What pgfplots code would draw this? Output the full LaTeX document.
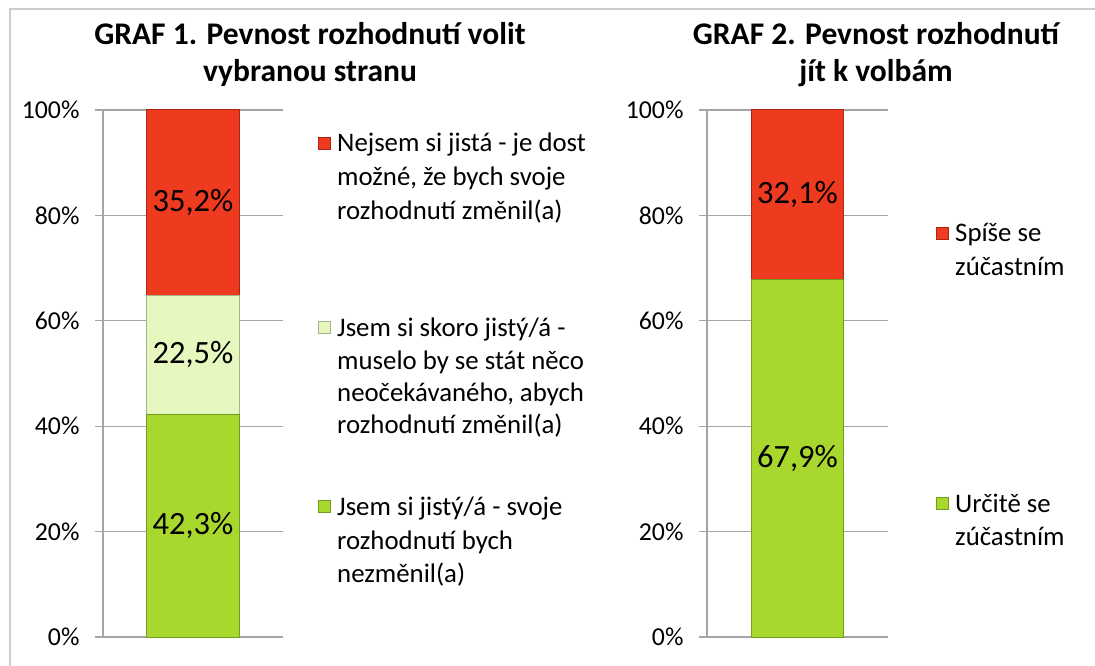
\documentclass[border=0pt]{standalone}
\usepackage{pgfplots}
\pgfplotsset{compat=1.18}
\usepackage{fontspec}
\setmainfont{Carlito}
\definecolor{cred}{RGB}{238,58,30}
\definecolor{credb}{RGB}{175,35,20}
\definecolor{clg}{RGB}{230,247,192}
\definecolor{clgb}{RGB}{165,180,135}
\definecolor{cgr}{RGB}{168,216,46}
\definecolor{cgrb}{RGB}{115,155,30}
\definecolor{cgrid}{RGB}{165,165,165}
\newcommand{\lf}{\fontsize{26.8}{30}\selectfont}
\newcommand{\tf}{\fontsize{31.5}{36}\selectfont\bfseries}
\pgfplotsset{
  mystack/.style={
    scale only axis, height=527pt,
    ybar stacked, ymin=0, ymax=100, xmin=-1, xmax=1,
    bar width=92pt,
    axis x line=none, axis y line=left,
    axis line style={-, draw=cgrid, line width=1.2pt},
    ymajorgrids, grid style={cgrid, line width=1.2pt},
    ytick={0,20,40,60,80,100},
    yticklabels={0\%,20\%,40\%,60\%,80\%,100\%},
    tick align=outside, major tick length=8pt,
    tick style={cgrid, line width=1.2pt},
    yticklabel style={font=\fontsize{25.8}{30}\selectfont, xshift=-12pt},
    point meta=explicit symbolic,
    nodes near coords,
    every node near coord/.append style={font=\fontsize{32.5}{36}\selectfont, anchor=center},
  }
}
\begin{document}
\begin{tikzpicture}[x=1pt,y=1pt]
\useasboundingbox (0,0) rectangle (1095,665);
\draw[draw={rgb,255:red,205;green,205;blue,205}, line width=2pt] (10,-10) -- (10,656) -- (1110,656);
% Chart 1
\begin{axis}[mystack, at={(103pt,28pt)}, anchor=south west, width=180pt]
\addplot[fill=cgr, draw=cgrb, line width=1pt] coordinates {(0,42.3) [42,3\%]};
\addplot[fill=clg, draw=clgb, line width=1pt] coordinates {(0,22.5) [22,5\%]};
\addplot[fill=cred, draw=credb, line width=1pt] coordinates {(0,35.2) [35,2\%]};
\end{axis}
% Chart 2
\begin{axis}[mystack, at={(707pt,28pt)}, anchor=south west, width=181pt]
\addplot[fill=cgr, draw=cgrb, line width=1pt] coordinates {(0,67.9) [67,9\%]};
\addplot[fill=cred, draw=credb, line width=1pt] coordinates {(0,32.1) [32,1\%]};
\end{axis}
% Titles
\node[anchor=base, font=\tf] at (310,665-35-10) {GRAF 1. Pevnost rozhodnutí volit};
\node[anchor=base, font=\tf] at (310,665-72-10) {vybranou stranu};
\node[anchor=base, font=\tf] at (876,665-35-10) {GRAF 2. Pevnost rozhodnutí};
\node[anchor=base, font=\tf] at (876,665-72-10) {jít k volbám};
% Legend 1
\foreach \yy/\cf/\cb in {143/cred/credb, 327/clg/clgb, 506/cgr/cgrb}{
  \fill[\cf, draw=\cb, line width=0.8pt] (318,665-\yy-6) rectangle (330,665-\yy+6);
}
\foreach \yy/\tx in {143/{Nejsem si jistá - je dost}, 177/{možné, že bych svoje}, 211/{rozhodnutí změnil(a)},
  327/{Jsem si skoro jistý/á -}, 360/{muselo by se stát něco}, 392/{neočekávaného, abych}, 424/{rozhodnutí změnil(a)},
  506/{Jsem si jistý/á - svoje}, 540/{rozhodnutí bych}, 573/{nezměnil(a)}}{
  \node[anchor=base west, font=\lf, inner sep=0pt] at (337,665-\yy-9) {\tx};
}
% Legend 2
\foreach \yy/\cf/\cb in {233/cred/credb, 503/cgr/cgrb}{
  \fill[\cf, draw=\cb, line width=0.8pt] (936,665-\yy-6) rectangle (948,665-\yy+6);
}
\foreach \yy/\tx in {233/{Spíše se}, 267/{zúčastním}, 503/{Určitě se}, 536/{zúčastním}}{
  \node[anchor=base west, font=\lf, inner sep=0pt] at (955,665-\yy-9) {\tx};
}
\end{tikzpicture}
\end{document}
